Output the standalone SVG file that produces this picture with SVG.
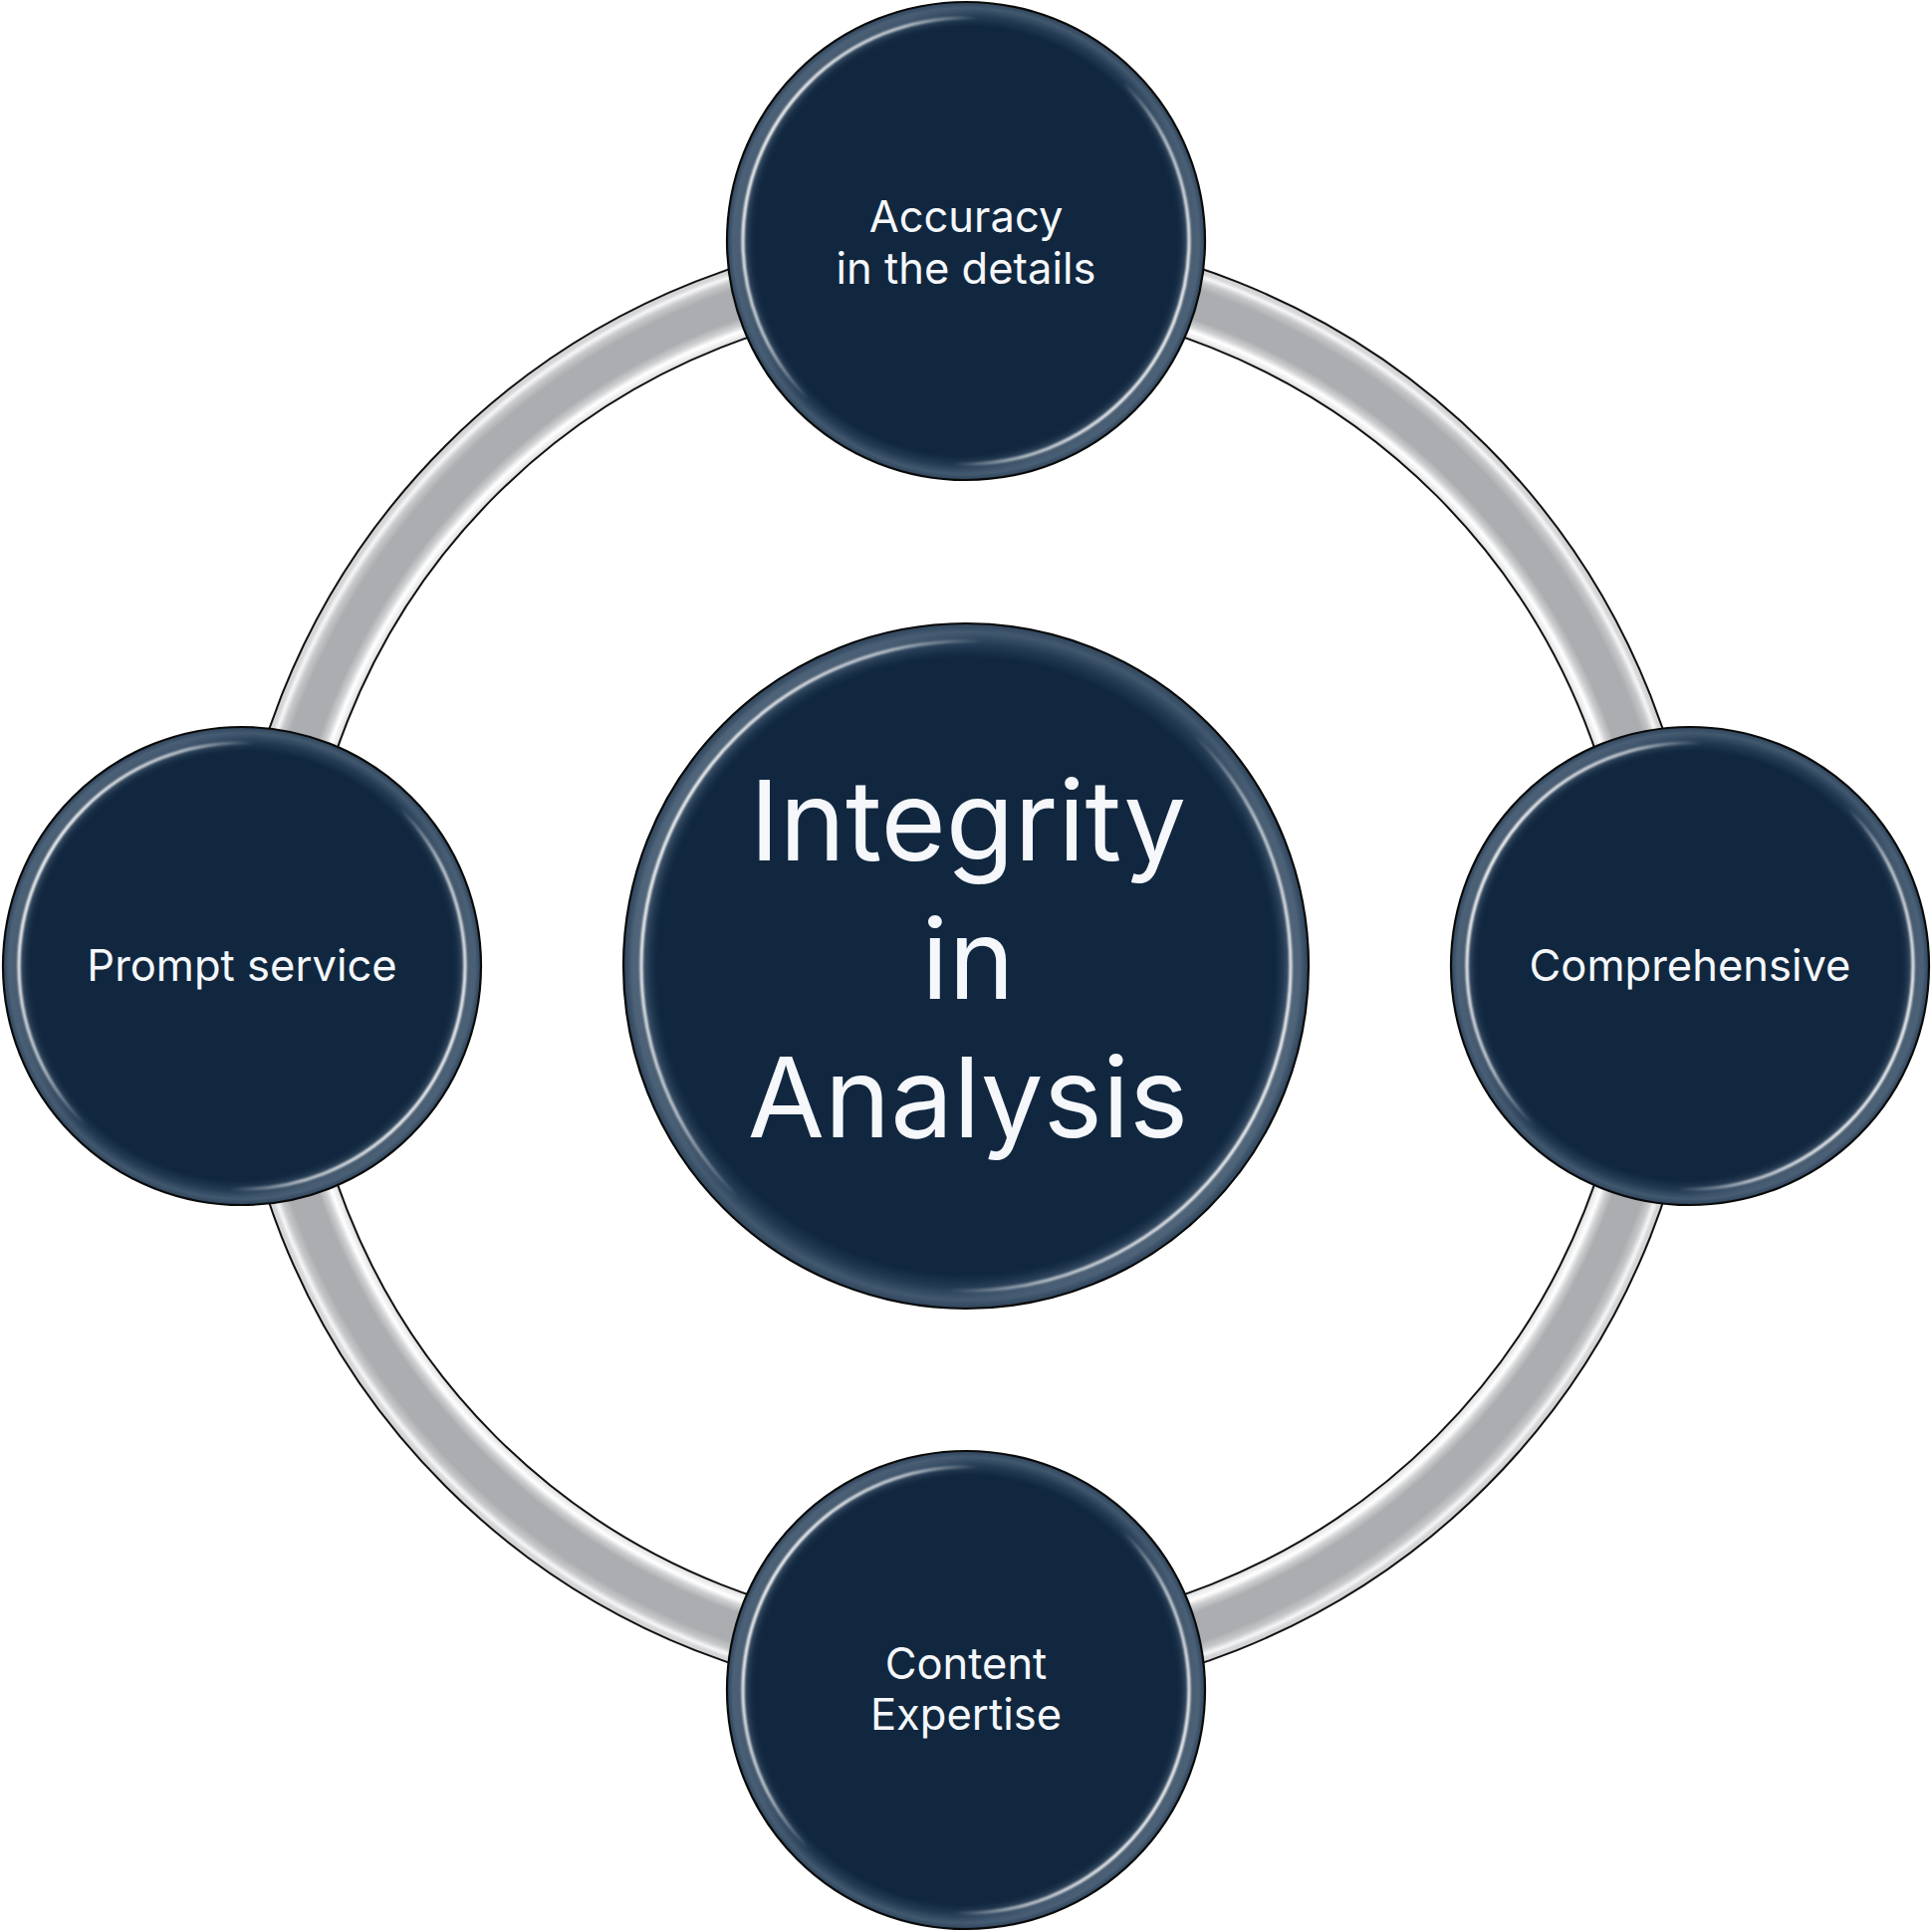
<svg xmlns="http://www.w3.org/2000/svg" width="1940" height="1940" viewBox="0 0 1940 1940">
  <defs>
    <style>
      .node-base { fill: url(#rim); stroke: #0a0a0a; stroke-width: 2.2; }
      .hl { fill: none; stroke: url(#hlGrad); stroke-width: 3; filter: url(#soft); }
      .glow { fill: none; stroke: url(#hlGrad); stroke-width: 12; opacity: 0.18; filter: url(#soft2); }
      .lbl { font-family: Inter, "Open Sans", "Liberation Sans", sans-serif; fill: #f5f7fa; text-anchor: middle; }
      .small { font-size: 43.5px; }
      .big { font-size: 112px; }
      .ring-edge { fill: none; stroke: #111; stroke-width: 2; }
    </style>
    <radialGradient id="rim" cx="0.5" cy="0.5" r="0.5">
      <stop offset="0" stop-color="#10273f"/>
      <stop offset="0.9" stop-color="#10273f"/>
      <stop offset="0.94" stop-color="#233b54"/>
      <stop offset="0.975" stop-color="#41586f"/>
      <stop offset="1" stop-color="#2f455c"/>
    </radialGradient>
    <linearGradient id="hlGrad" x1="0.05" y1="0.3" x2="0.95" y2="0.7">
      <stop offset="0" stop-color="#ffffff" stop-opacity="1"/>
      <stop offset="0.18" stop-color="#ffffff" stop-opacity="0.7"/>
      <stop offset="0.32" stop-color="#ffffff" stop-opacity="0"/>
      <stop offset="0.68" stop-color="#ffffff" stop-opacity="0"/>
      <stop offset="0.82" stop-color="#ffffff" stop-opacity="0.7"/>
      <stop offset="1" stop-color="#ffffff" stop-opacity="1"/>
    </linearGradient>
    <radialGradient id="ringGrad" gradientUnits="userSpaceOnUse" cx="970" cy="970" r="740">
      <stop offset="0.9027" stop-color="#d8d9db"/>
      <stop offset="0.908" stop-color="#eeeff0"/>
      <stop offset="0.9135" stop-color="#ffffff"/>
      <stop offset="0.921" stop-color="#cfd0d2"/>
      <stop offset="0.931" stop-color="#abadb0"/>
      <stop offset="0.970" stop-color="#abadb0"/>
      <stop offset="0.981" stop-color="#c8c9cb"/>
      <stop offset="0.988" stop-color="#f6f6f7"/>
      <stop offset="0.993" stop-color="#d6d7d9"/>
      <stop offset="1" stop-color="#cdced0"/>
    </radialGradient>
    <filter id="soft" x="-5%" y="-5%" width="110%" height="110%">
      <feGaussianBlur stdDeviation="1.2"/>
    </filter>
    <filter id="soft2" x="-5%" y="-5%" width="110%" height="110%">
      <feGaussianBlur stdDeviation="4"/>
    </filter>
  </defs>

  <rect x="0" y="0" width="1940" height="1940" fill="#ffffff"/>

  <g id="connectors">
    <circle cx="970" cy="970" r="703.5" fill="none" stroke="url(#ringGrad)" stroke-width="71"/>
    <circle class="ring-edge" cx="970" cy="970" r="739"/>
    <circle class="ring-edge" cx="970" cy="970" r="668"/>
  </g>

  <g id="node-top">
    <circle class="node-base" cx="970" cy="242" r="240"/>
    <circle class="glow" cx="970" cy="242" r="226"/>
    <circle class="hl" cx="970" cy="242" r="224"/>
    <text class="lbl small" x="970" y="233">Accuracy</text>
    <text class="lbl small" x="970" y="285">in the details</text>
  </g>

  <g id="node-left">
    <circle class="node-base" cx="243" cy="970" r="240"/>
    <circle class="glow" cx="243" cy="970" r="226"/>
    <circle class="hl" cx="243" cy="970" r="224"/>
    <text class="lbl small" x="243" y="985">Prompt service</text>
  </g>

  <g id="node-right">
    <circle class="node-base" cx="1697" cy="970" r="240"/>
    <circle class="glow" cx="1697" cy="970" r="226"/>
    <circle class="hl" cx="1697" cy="970" r="224"/>
    <text class="lbl small" x="1697" y="985">Comprehensive</text>
  </g>

  <g id="node-bottom">
    <circle class="node-base" cx="970" cy="1697" r="240"/>
    <circle class="glow" cx="970" cy="1697" r="226"/>
    <circle class="hl" cx="970" cy="1697" r="224"/>
    <text class="lbl small" x="970" y="1686">Content</text>
    <text class="lbl small" x="970" y="1737">Expertise</text>
  </g>

  <g id="node-center">
    <circle class="node-base" cx="970" cy="970" r="344"/>
    <circle class="glow" cx="970" cy="970" r="328"/>
    <circle class="hl" cx="970" cy="970" r="326"/>
    <text class="lbl big" x="972" y="864">Integrity</text>
    <text class="lbl big" x="972" y="1003">in</text>
    <text class="lbl big" x="972" y="1142">Analysis</text>
  </g>
</svg>
